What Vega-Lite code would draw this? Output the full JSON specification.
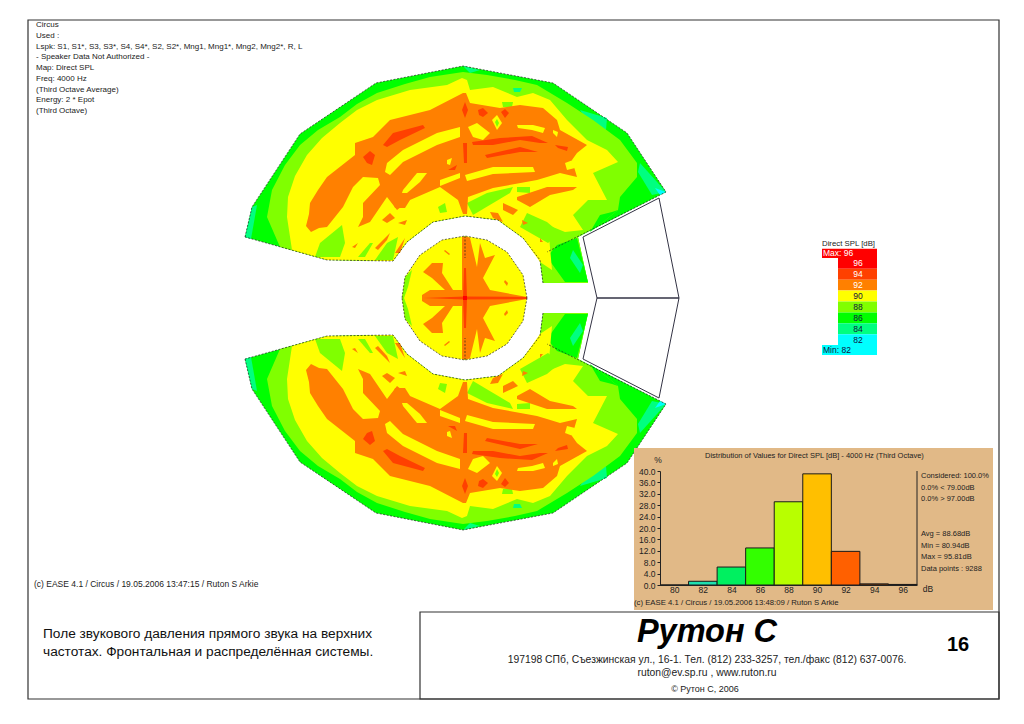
{"$schema":"https://vega.github.io/schema/vega-lite/v6.json","width":1024,"height":724,"padding":0,"autosize":"none","background":"white","config":{"view":{"stroke":null},"text":{"font":"Liberation Sans"},"axis":{"labelFont":"Liberation Sans"}},
"data":{"values":[{}]},
"datasets":{
"map":[
{"type":"Feature","properties":{"spl":86},"geometry":{"type":"Polygon","coordinates":[[[-220,61],[-213,91],[-165,164],[-89,215],[-2,232],[88,215],[162,165],[201,106],[113,61],[123,15],[78,15],[75,38],[58,60],[33,78],[0,82],[-32,76],[-58,56],[-72,37],[-138,38],[-220,61]]]}},
{"type":"Feature","properties":{"spl":84},"geometry":{"type":"Polygon","coordinates":[[[-220,61],[-213,91],[-208,93],[-214,59],[-220,61]]]}},
{"type":"Feature","properties":{"spl":84},"geometry":{"type":"Polygon","coordinates":[[[175,135],[201,106],[187,103],[173,126],[175,135]]]}},
{"type":"Feature","properties":{"spl":84},"geometry":{"type":"Polygon","coordinates":[[[115,188],[142,180],[141,168],[120,180],[115,188]]]}},
{"type":"Feature","properties":{"spl":84},"geometry":{"type":"Polygon","coordinates":[[[-2,232],[15,228],[5,225],[-2,232]]]}},
{"type":"Feature","properties":{"spl":82},"geometry":{"type":"Polygon","coordinates":[[[201,106],[195,103],[190,110],[201,106]]]}},
{"type":"Feature","properties":{"spl":88},"geometry":{"type":"Polygon","coordinates":[[[-185,51],[-198,81],[-193,108],[-180,133],[-165,153],[-147,168],[-125,181],[-108,194],[-88,205],[-60,214],[-35,221],[-2,226],[22,223],[50,218],[72,213],[102,195],[128,178],[155,158],[172,135],[172,121],[155,101],[153,88],[133,72],[113,61],[123,15],[78,15],[75,38],[58,60],[33,78],[0,82],[-32,76],[-58,56],[-72,37],[-138,38],[-185,51]]]}},
{"type":"Feature","properties":{"spl":86},"geometry":{"type":"Polygon","coordinates":[[[92,53],[112,60],[123,16],[100,16],[82,41],[92,53]]]}},
{"type":"Feature","properties":{"spl":84},"geometry":{"type":"Polygon","coordinates":[[[108,48],[118,33],[115,25],[105,40],[108,48]]]}},
{"type":"Feature","properties":{"spl":86},"geometry":{"type":"Polygon","coordinates":[[[125,66],[135,83],[147,86],[153,88],[133,72],[125,66]]]}},
{"type":"Feature","properties":{"spl":90},"geometry":{"type":"Polygon","coordinates":[[[-173,48],[-178,81],[-177,101],[-170,122],[-158,143],[-143,160],[-125,175],[-108,188],[-88,198],[-55,208],[-18,213],[-3,220],[2,218],[5,208],[28,211],[52,201],[68,205],[85,198],[102,178],[122,158],[142,148],[153,136],[128,125],[142,98],[123,98],[108,83],[118,68],[100,66],[83,73],[87,28],[75,36],[58,60],[33,78],[0,82],[-32,76],[-58,56],[-72,37],[-138,38],[-173,48]]]}},
{"type":"Feature","properties":{"spl":88},"geometry":{"type":"Polygon","coordinates":[[[-150,41],[-145,55],[-123,73],[-120,55],[-125,41],[-150,41]]]}},
{"type":"Feature","properties":{"spl":88},"geometry":{"type":"Polygon","coordinates":[[[-107,41],[-95,55],[-92,55],[-100,41],[-107,41]]]}},
{"type":"Feature","properties":{"spl":88},"geometry":{"type":"Polygon","coordinates":[[[-90,38],[-78,55],[-67,61],[-72,38],[-90,38]]]}},
{"type":"Feature","properties":{"spl":88},"geometry":{"type":"Polygon","coordinates":[[[2,95],[22,105],[48,111],[45,105],[8,83],[2,95]]]}},
{"type":"Feature","properties":{"spl":88},"geometry":{"type":"Polygon","coordinates":[[[52,111],[65,111],[65,105],[52,106],[52,111]]]}},
{"type":"Feature","properties":{"spl":88},"geometry":{"type":"Polygon","coordinates":[[[62,85],[82,76],[95,65],[83,55],[55,71],[62,85]]]}},
{"type":"Feature","properties":{"spl":88},"geometry":{"type":"Polygon","coordinates":[[[8,113],[22,115],[20,111],[8,110],[8,113]]]}},
{"type":"Feature","properties":{"spl":88},"geometry":{"type":"Polygon","coordinates":[[[37,196],[48,196],[47,191],[38,191],[37,196]]]}},
{"type":"Feature","properties":{"spl":84},"geometry":{"type":"Polygon","coordinates":[[[48,210],[57,210],[55,206],[49,206],[48,210]]]}},
{"type":"Feature","properties":{"spl":88},"geometry":{"type":"Polygon","coordinates":[[[-27,91],[-20,95],[-18,86],[-25,85],[-27,91]]]}},
{"type":"Feature","properties":{"spl":92},"geometry":{"type":"Polygon","coordinates":[[[-154,66],[-159,72],[-156,84],[-155,95],[-147,108],[-138,121],[-124,132],[-110,143],[-110,155],[-92,161],[-75,178],[-35,188],[-2,205],[1,205],[5,195],[35,190],[55,193],[78,190],[92,178],[95,168],[122,153],[112,145],[107,138],[112,121],[95,125],[82,121],[72,118],[28,110],[3,101],[2,84],[-2,84],[-7,98],[-25,111],[-55,98],[-68,88],[-78,101],[-95,76],[-107,71],[-102,81],[-102,95],[-85,113],[-87,120],[-102,121],[-112,111],[-122,91],[-138,71],[-146,70],[-154,66]]]}},
{"type":"Feature","properties":{"spl":90},"geometry":{"type":"Polygon","coordinates":[[[-78,135],[-62,148],[-28,165],[-5,171],[-5,161],[-28,153],[-62,136],[-75,123],[-80,126],[-78,135]]]}},
{"type":"Feature","properties":{"spl":90},"geometry":{"type":"Polygon","coordinates":[[[-62,108],[-48,125],[-38,125],[-45,116],[-58,105],[-63,105],[-62,108]]]}},
{"type":"Feature","properties":{"spl":90},"geometry":{"type":"Polygon","coordinates":[[[0,123],[28,131],[68,131],[70,126],[28,124],[2,117],[0,123]]]}},
{"type":"Feature","properties":{"spl":90},"geometry":{"type":"Polygon","coordinates":[[[-25,118],[-5,125],[-5,120],[-25,112],[-25,118]]]}},
{"type":"Feature","properties":{"spl":90},"geometry":{"type":"Polygon","coordinates":[[[52,173],[68,173],[80,170],[78,165],[67,168],[53,170],[52,173]]]}},
{"type":"Feature","properties":{"spl":90},"geometry":{"type":"Polygon","coordinates":[[[88,168],[93,166],[92,161],[88,165],[88,168]]]}},
{"type":"Feature","properties":{"spl":90},"geometry":{"type":"Polygon","coordinates":[[[3,171],[12,175],[25,165],[18,158],[8,161],[3,171]]]}},
{"type":"Feature","properties":{"spl":90},"geometry":{"type":"Polygon","coordinates":[[[27,178],[32,183],[37,175],[32,168],[27,178]]]}},
{"type":"Feature","properties":{"spl":88},"geometry":{"type":"Polygon","coordinates":[[[30,176],[32,179],[34,175],[32,171],[30,176]]]}},
{"type":"Feature","properties":{"spl":90},"geometry":{"type":"Polygon","coordinates":[[[100,135],[108,138],[110,130],[102,128],[100,135]]]}},
{"type":"Feature","properties":{"spl":90},"geometry":{"type":"Polygon","coordinates":[[[-18,138],[-13,140],[-15,133],[-18,134],[-18,138]]]}},
{"type":"Feature","properties":{"spl":92},"geometry":{"type":"Polygon","coordinates":[[[-83,78],[-75,85],[-70,80],[-78,75],[-83,78]]]}},
{"type":"Feature","properties":{"spl":92},"geometry":{"type":"Polygon","coordinates":[[[-67,75],[-58,78],[-60,73],[-67,75]]]}},
{"type":"Feature","properties":{"spl":92},"geometry":{"type":"Polygon","coordinates":[[[-90,50],[-75,65],[-78,58],[-87,48],[-90,50]]]}},
{"type":"Feature","properties":{"spl":92},"geometry":{"type":"Polygon","coordinates":[[[-70,45],[-60,60],[-65,45],[-70,45]]]}},
{"type":"Feature","properties":{"spl":92},"geometry":{"type":"Polygon","coordinates":[[[-113,51],[-107,55],[-110,50],[-113,51]]]}},
{"type":"Feature","properties":{"spl":92},"geometry":{"type":"Polygon","coordinates":[[[38,95],[53,88],[48,83],[38,88],[38,95]]]}},
{"type":"Feature","properties":{"spl":92},"geometry":{"type":"Polygon","coordinates":[[[52,101],[82,111],[112,111],[108,108],[85,103],[65,91],[52,98],[52,101]]]}},
{"type":"Feature","properties":{"spl":92},"geometry":{"type":"Polygon","coordinates":[[[25,86],[33,85],[38,76],[28,80],[25,86]]]}},
{"type":"Feature","properties":{"spl":92},"geometry":{"type":"Polygon","coordinates":[[[57,78],[63,75],[58,73],[57,78]]]}},
{"type":"Feature","properties":{"spl":92},"geometry":{"type":"Polygon","coordinates":[[[75,60],[78,56],[75,56],[75,60]]]}},
{"type":"Feature","properties":{"spl":92},"geometry":{"type":"Polygon","coordinates":[[[-72,95],[-55,98],[-60,90],[-70,90],[-72,95]]]}},
{"type":"Feature","properties":{"spl":94},"geometry":{"type":"Polygon","coordinates":[[[-82,153],[-72,165],[-42,173],[-40,170],[-65,158],[-78,151],[-82,153]]]}},
{"type":"Feature","properties":{"spl":94},"geometry":{"type":"Polygon","coordinates":[[[-102,141],[-95,147],[-90,143],[-93,133],[-98,135],[-102,141]]]}},
{"type":"Feature","properties":{"spl":94},"geometry":{"type":"Polygon","coordinates":[[[-3,188],[0,196],[3,188],[0,180],[-3,188]]]}},
{"type":"Feature","properties":{"spl":94},"geometry":{"type":"Polygon","coordinates":[[[13,188],[18,190],[23,185],[18,181],[14,183],[13,188]]]}},
{"type":"Feature","properties":{"spl":94},"geometry":{"type":"Polygon","coordinates":[[[36,186],[40,189],[44,185],[40,180],[36,186]]]}},
{"type":"Feature","properties":{"spl":94},"geometry":{"type":"Polygon","coordinates":[[[7,156],[35,160],[67,162],[83,155],[75,155],[55,158],[28,153],[8,153],[7,156]]]}},
{"type":"Feature","properties":{"spl":94},"geometry":{"type":"Polygon","coordinates":[[[20,143],[55,151],[73,146],[55,146],[22,140],[20,143]]]}},
{"type":"Feature","properties":{"spl":94},"geometry":{"type":"Polygon","coordinates":[[[90,153],[103,151],[102,147],[93,150],[90,153]]]}},
{"type":"Feature","properties":{"spl":94},"geometry":{"type":"Polygon","coordinates":[[[-2,155],[2,155],[2,135],[-1,135],[-2,155]]]}},
{"type":"Feature","properties":{"spl":94},"geometry":{"type":"Polygon","coordinates":[[[-17,128],[-8,133],[-10,128],[-17,128]]]}},
{"type":"Feature","properties":{"spl":90},"geometry":{"type":"Polygon","coordinates":[[[62,0],[58,23],[42,46],[22,58],[0,62],[-23,58],[-45,43],[-60,21],[-63,0],[62,0]]]}},
{"type":"Feature","properties":{"spl":88},"geometry":{"type":"Polygon","coordinates":[[[-60,21],[-53,28],[-57,11],[-61,0],[-63,0],[-60,21]]]}},
{"type":"Feature","properties":{"spl":92},"geometry":{"type":"Polygon","coordinates":[[[-3,61],[3,61],[5,60],[12,31],[15,55],[20,40],[30,43],[18,20],[25,8],[62,1],[62,0],[-3,0],[-3,61]]]}},
{"type":"Feature","properties":{"spl":92},"geometry":{"type":"Polygon","coordinates":[[[-42,26],[-33,35],[-22,35],[-23,25],[-12,8],[-3,8],[-3,0],[-43,0],[-43,3],[-35,8],[-20,8],[-33,20],[-42,26]]]}},
{"type":"Feature","properties":{"spl":92},"geometry":{"type":"Polygon","coordinates":[[[-20,48],[-15,44],[-16,43],[-21,47],[-20,48]]]}},
{"type":"Feature","properties":{"spl":92},"geometry":{"type":"Polygon","coordinates":[[[40,18],[43,15],[42,12],[39,16],[40,18]]]}},
{"type":"Feature","properties":{"spl":94},"geometry":{"type":"Polygon","coordinates":[[[-42,0],[0,1.5],[62,1],[62,0],[-42,0]]]}},
{"type":"Feature","properties":{"spl":94},"geometry":{"type":"Polygon","coordinates":[[[-1,30],[1,30],[2,0],[-2,0],[-1,30]]]}},
{"type":"Feature","properties":{"spl":96},"geometry":{"type":"Polygon","coordinates":[[[-2,2],[2,2],[2,0],[-2,0],[-2,2]]]}}
],
"edges":[
{"type":"Feature","properties":{"part":"venue edge"},"geometry":{"type":"LineString","coordinates":[[-220,61],[-213,91],[-165,164],[-89,215],[-2,232],[88,215],[162,165],[201,106],[82,46]]}},
{"type":"Feature","properties":{"part":"inner edge"},"geometry":{"type":"LineString","coordinates":[[78,15],[75,38],[58,60],[33,78],[0,82],[-32,76],[-58,56],[-72,37],[-138,38],[-220,61]]}},
{"type":"Feature","properties":{"part":"ring"},"geometry":{"type":"LineString","coordinates":[[62,0],[58,23],[42,46],[22,58],[0,62],[-23,58],[-45,43],[-60,21],[-63,0]]}},
{"type":"Feature","properties":{"part":"axis"},"geometry":{"type":"LineString","coordinates":[[0,62],[0,40]]}}
],
"stage":[
{"type":"Feature","properties":{"part":"stage"},"geometry":{"type":"LineString","coordinates":[[118,61],[194,100],[214,0],[132,0],[118,61]]}}
]
},
"layer":[
{"data":{"name":"map"},"mark":{"type":"geoshape","strokeWidth":0},"projection":{"type":"identity","reflectY":true,"scale":1,"translate":[465,298]},"encoding":{"color":{"field":"properties.spl","type":"ordinal","legend":null,"scale":{"domain":[82,84,86,88,90,92,94,96],"range":["#00FFFF","#00FF80","#00FF00","#80FF00","#FFFF00","#FF8000","#FF4000","#FF0000"]}}}},
{"data":{"name":"map"},"mark":{"type":"geoshape","strokeWidth":0},"projection":{"type":"identity","reflectY":false,"scale":1,"translate":[465,298]},"encoding":{"color":{"field":"properties.spl","type":"ordinal","legend":null,"scale":{"domain":[82,84,86,88,90,92,94,96],"range":["#00FFFF","#00FF80","#00FF00","#80FF00","#FFFF00","#FF8000","#FF4000","#FF0000"]}}}},
{"data":{"name":"edges"},"mark":{"type":"geoshape","filled":false,"stroke":"#222222","strokeWidth":0.7,"strokeDash":[2,1.5]},"projection":{"type":"identity","reflectY":true,"scale":1,"translate":[465,298]}},
{"data":{"name":"edges"},"mark":{"type":"geoshape","filled":false,"stroke":"#222222","strokeWidth":0.7,"strokeDash":[2,1.5]},"projection":{"type":"identity","reflectY":false,"scale":1,"translate":[465,298]}},
{"data":{"name":"stage"},"mark":{"type":"geoshape","filled":false,"stroke":"#333344","strokeWidth":1},"projection":{"type":"identity","reflectY":true,"scale":1,"translate":[465,298]}},
{"data":{"name":"stage"},"mark":{"type":"geoshape","filled":false,"stroke":"#333344","strokeWidth":1},"projection":{"type":"identity","reflectY":false,"scale":1,"translate":[465,298]}},
{"mark":{"type":"rect","x":28,"x2":999,"y":20,"y2":699,"fill":"transparent","stroke":"#333333","strokeWidth":1.2},"encoding":{}},
{"mark":{"type":"rect","x":420,"x2":999,"y":612,"y2":699,"fill":"transparent","stroke":"#333333","strokeWidth":1.2},"encoding":{}},
{"mark":{"type":"rect","x":634,"x2":993,"y":448,"y2":610,"fill":"#E1B987"},"encoding":{}},
{"layer":[
{"data":{"values":[{"db":80,"lo":79,"hi":81,"pct":0},{"db":82,"lo":81,"hi":83,"pct":1.3},{"db":84,"lo":83,"hi":85,"pct":6.3},{"db":86,"lo":85,"hi":87,"pct":13},{"db":88,"lo":87,"hi":89,"pct":29.2},{"db":90,"lo":89,"hi":91,"pct":39},{"db":92,"lo":91,"hi":93,"pct":11.8},{"db":94,"lo":93,"hi":95,"pct":0.4},{"db":96,"lo":95,"hi":97,"pct":0.2}]},
"mark":{"type":"rect","stroke":"#1a1a1a","strokeWidth":1},
"encoding":{
"x":{"field":"lo","type":"quantitative","scale":{"domain":[79,97],"range":[660,917]},"axis":{"title":null,"zindex":1,"values":[80,82,84,86,88,90,92,94,96],"format":"d","offset":-139,"orient":"bottom","grid":false,"ticks":false,"labelPadding":0,"labelFontSize":8.5,"labelColor":"#222222","domainColor":"#222222","labelFlush":false,"labelOverlap":false}},
"x2":{"field":"hi"},
"y":{"field":"pct","type":"quantitative","scale":{"domain":[0,40],"range":[585,471],"nice":false,"zero":true},"axis":{"title":null,"zindex":1,"values":[0,4,8,12,16,20,24,28,32,36,40],"format":".1f","offset":-660,"orient":"left","grid":false,"tickSize":3,"labelPadding":2,"labelFontSize":8.5,"labelColor":"#222222","domainColor":"#222222","tickColor":"#222222","labelFlush":false,"labelOverlap":false}},
"y2":{"datum":0},
"color":{"field":"db","type":"ordinal","legend":null,"scale":{"domain":[80,82,84,86,88,90,92,94,96],"range":["#00E0E0","#1FE0B0","#00F060","#33FF00","#B8FF00","#FFBF00","#FF6000","#A04000","#602000"]}}}},
{"mark":{"type":"rule","stroke":"#222222","strokeWidth":1},"encoding":{"x":{"datum":97,"type":"quantitative","scale":{"domain":[79,97],"range":[660,917]}},"y":{"datum":0,"type":"quantitative","scale":{"domain":[0,40],"range":[585,471],"nice":false,"zero":true}},"y2":{"datum":40}}}
]},
{"mark":{"type":"text","x":705,"y":456,"text":"Distribution of Values for Direct SPL [dB]  - 4000 Hz (Third Octave)","fontSize":7.5,"align":"left","fill":"#222222"},"encoding":{}},
{"mark":{"type":"text","x":658,"y":460,"text":"%","fontSize":8.5,"align":"center","fill":"#222222"},"encoding":{}},
{"mark":{"type":"text","x":928,"y":589,"text":"dB","fontSize":8.5,"align":"center","fill":"#222222"},"encoding":{}},
{"mark":{"type":"text","x":921,"y":476,"text":["Considered: 100.0%","0.0%  < 79.00dB","0.0%  > 97.00dB"],"lineHeight":11.7,"fontSize":7.5,"align":"left","fill":"#222222"},"encoding":{}},
{"mark":{"type":"text","x":921,"y":534,"text":["Avg = 88.68dB","Min = 80.94dB","Max = 95.81dB","Data points : 9288"],"lineHeight":11.7,"fontSize":7.5,"align":"left","fill":"#222222"},"encoding":{}},
{"mark":{"type":"text","x":634,"y":603,"text":"(c) EASE 4.1  / Circus  / 19.05.2006 13:48:09 / Ruton S Arkie","fontSize":7.75,"align":"left","fill":"#222222"},"encoding":{}},
{"layer":[
{"data":{"values":[{"spl":96,"lo":95,"hi":97},{"spl":94,"lo":93,"hi":95},{"spl":92,"lo":91,"hi":93},{"spl":90,"lo":89,"hi":91},{"spl":88,"lo":87,"hi":89},{"spl":86,"lo":85,"hi":87},{"spl":84,"lo":83,"hi":85},{"spl":82,"lo":81,"hi":83}]},
"mark":{"type":"rect","x":838,"x2":877},
"encoding":{"y":{"field":"hi","type":"quantitative","axis":null,"scale":{"domain":[79,99],"range":[356,247],"nice":false,"zero":false}},"y2":{"field":"lo"},"color":{"field":"spl","type":"ordinal","legend":null,"scale":{"domain":[82,84,86,88,90,92,94,96],"range":["#00FFFF","#00FF80","#00FF00","#80FF00","#FFFF00","#FF8000","#FF4000","#FF0000"]}}}},
{"data":{"values":[{"spl":96,"lo":97,"hi":98.7},{"spl":82,"lo":79.2,"hi":81}]},
"mark":{"type":"rect","x":822,"x2":877},
"encoding":{"y":{"field":"hi","type":"quantitative","axis":null,"scale":{"domain":[79,99],"range":[356,247],"nice":false,"zero":false}},"y2":{"field":"lo"},"color":{"field":"spl","type":"ordinal","legend":null,"scale":{"domain":[82,84,86,88,90,92,94,96],"range":["#00FFFF","#00FF80","#00FF00","#80FF00","#FFFF00","#FF8000","#FF4000","#FF0000"]}}}},
{"data":{"values":[{"spl":96},{"spl":94},{"spl":92},{"spl":90},{"spl":88},{"spl":86},{"spl":84},{"spl":82}]},
"mark":{"type":"text","x":858,"fontSize":8.5,"align":"center"},
"encoding":{"y":{"field":"spl","type":"quantitative","axis":null,"scale":{"domain":[79,99],"range":[356,247],"nice":false,"zero":false}},"text":{"field":"spl","type":"quantitative"},"color":{"condition":{"test":"datum.spl>=92","value":"#FFFFFF"},"value":"#101040"}}},
{"data":{"values":[{"label":"Max:  96","mid":97.85,"tone":"light"},{"label":"Min:  82","mid":80.1,"tone":"dark"}]},
"mark":{"type":"text","x":823,"fontSize":8.5,"align":"left"},
"encoding":{"y":{"field":"mid","type":"quantitative","axis":null,"scale":{"domain":[79,99],"range":[356,247],"nice":false,"zero":false}},"text":{"field":"label","type":"nominal"},"color":{"condition":{"test":"datum.tone==='light'","value":"#FFFFFF"},"value":"#101040"}}}
]},
{"mark":{"type":"text","x":822,"y":244,"text":"Direct SPL [dB]","fontSize":7.8,"align":"left","fill":"#222222"},"encoding":{}},
{"mark":{"type":"text","x":36,"y":25,"text":["Circus","Used :","Lspk: S1, S1*, S3, S3*, S4, S4*, S2, S2*, Mng1, Mng1*, Mng2, Mng2*, R, L","- Speaker Data Not Authorized -","Map: Direct SPL","Freq: 4000 Hz","(Third Octave Average)","Energy: 2 * Epot","(Third Octave)"],"lineHeight":10.75,"fontSize":8,"align":"left","fill":"#222222"},"encoding":{}},
{"mark":{"type":"text","x":34,"y":584,"text":"(c) EASE 4.1  / Circus  / 19.05.2006 13:47:15 / Ruton S Arkie","fontSize":8.5,"align":"left","fill":"#222222"},"encoding":{}},
{"mark":{"type":"text","x":43,"y":634,"text":["Поле звукового давления прямого звука на верхних","частотах. Фронтальная и распределённая системы."],"lineHeight":18,"fontSize":13.7,"align":"left","fill":"#111111"},"encoding":{}},
{"mark":{"type":"text","x":707,"y":632,"text":"Рутон С","fontSize":32.5,"fontWeight":"bold","fontStyle":"italic","align":"center","fill":"#000000"},"encoding":{}},
{"mark":{"type":"text","x":707,"y":660,"text":["197198 СПб, Съезжинская ул., 16-1. Тел. (812) 233-3257, тел./факс (812) 637-0076.","ruton@ev.sp.ru ,  www.ruton.ru"],"lineHeight":12.5,"fontSize":10.35,"align":"center","fill":"#222222"},"encoding":{}},
{"mark":{"type":"text","x":705,"y":689,"text":"© Рутон С, 2006","fontSize":9,"align":"center","fill":"#222222"},"encoding":{}},
{"mark":{"type":"text","x":958,"y":645,"text":"16","fontSize":20,"fontWeight":"bold","align":"center","fill":"#000000"},"encoding":{}}
],
"resolve":{"scale":{"x":"independent","y":"independent","color":"independent"}}
}
